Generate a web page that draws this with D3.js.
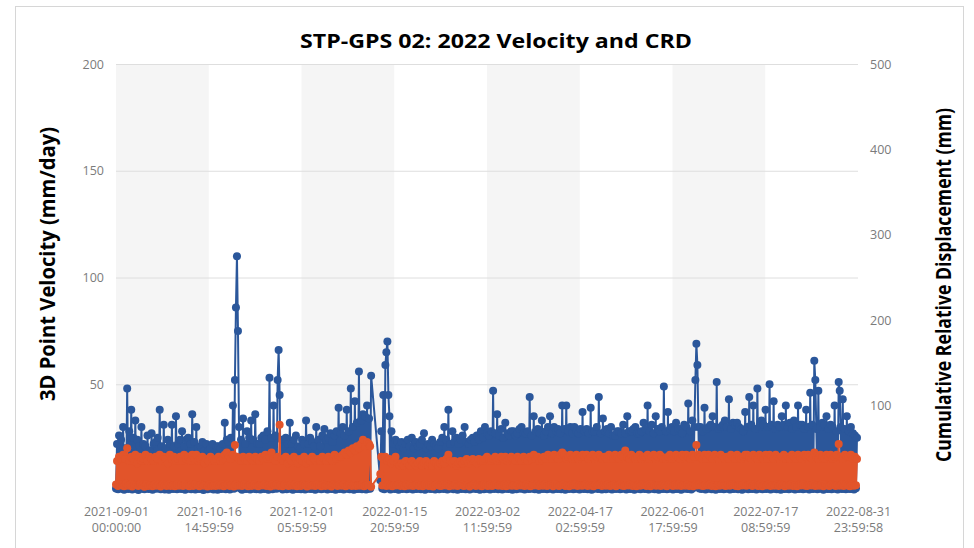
<!DOCTYPE html>
<html>
<head>
<meta charset="utf-8">
<script src="https://cdn.jsdelivr.net/npm/d3@7"></script>
<style>
body { margin: 0; background: #fff; }
svg { display: block; font-family: "Open Sans", sans-serif; }
</style>
</head>
<body>
<svg></svg>
<script>
// two readings a day (00:00 and 12:00) from 2021-09-01, null = no data (early January gap)
var startDay = "2021-09-01";

var velocity00h = [
  1.2, 0.8, 1.5, 1.0, 0.6, 1.4, 0.9, 1.6, 0.7, 1.3,
  1.1, 0.5, 1.8, 1.0, 0.8, 1.5, 0.9, 1.2, 0.6, 1.4,
  1.0, 1.7, 0.8, 1.3, 0.7, 1.1, 0.6, 1.5, 0.9, 1.2,
  0.8, 1.4, 0.9, 1.2, 0.6, 1.0, 1.3, 0.8, 1.6, 0.7,
  1.1, 0.9, 1.4, 0.5, 1.2, 0.8, 1.5, 1.0, 0.7, 1.3,
  0.6, 1.2, 0.9, 1.4, 0.8, 1.1, 0.7, 1.5, 1.0, 86,
  75, 1.3, 0.6, 1.1, 0.9, 1.6, 0.7, 1.2, 1.0, 0.8,
  1.4, 0.7, 1.2, 0.9, 1.5, 0.6, 1.1, 0.8, 1.3, 1.0,
  66, 1.5, 0.7, 1.2, 0.8, 1.4, 1.0, 0.6, 1.3, 0.9,
  1.1, 0.8, 1.6, 0.7, 1.2, 1.0, 0.9, 1.4, 0.6, 1.1,
  1.3, 0.8, 1.0, 1.5, 0.7, 1.2, 0.9, 1.1, 0.6, 1.4,
  0.9, 1.2, 0.7, 1.3, 1.0, 0.8, 1.5, 0.6, 1.1, 0.9,
  1.2, 0.8, 1.4, 0.7, 1.0, 1.1, null, null, null, null,
  5.0, 1.2, 0.8, 65, 45, 0.7, 1.5, 0.9, 1.1, 0.6,
  1.2, 0.9, 1.4, 0.8, 1.0, 1.3, 0.7, 1.1, 0.9, 1.5,
  0.8, 1.2, 0.6, 1.4, 1.0, 0.9, 1.3, 0.7, 1.1, 0.8,
  1.5, 0.9, 1.2, 0.7, 1.0, 1.4, 0.8, 1.1, 0.6, 1.3,
  0.9, 1.2, 0.8, 1.5, 0.7, 1.0, 1.3, 0.9, 1.1, 0.6,
  1.4, 0.8, 1.0, 1.2, 0.7, 1.3, 0.9, 1.6, 0.8, 1.1,
  0.7, 1.2, 1.0, 0.9, 1.4, 0.6, 1.1, 0.8, 1.3, 1.0,
  1.2, 0.7, 1.5, 0.9, 1.0, 1.3, 0.8, 1.1, 0.6, 1.4,
  0.9, 1.2, 0.8, 1.0, 1.3, 0.7, 1.5, 0.9, 1.1, 0.8,
  1.3, 0.6, 1.1, 0.9, 1.4, 0.8, 1.0, 1.2, 0.7, 1.5,
  0.9, 1.1, 0.8, 1.3, 0.6, 1.0, 1.4, 0.9, 1.2, 0.7,
  1.1, 0.8, 1.5, 1.0, 0.7, 1.2, 0.9, 1.3, 0.8, 1.0,
  1.4, 0.7, 1.1, 0.9, 1.2, 0.6, 1.3, 1.0, 0.8, 1.5,
  0.9, 1.1, 0.7, 1.4, 1.0, 0.8, 1.2, 0.6, 1.3, 0.9,
  1.2, 0.8, 1.0, 1.5, 0.7, 1.1, 0.9, 1.3, 0.6, 1.0,
  1.3, 0.9, 1.1, 0.7, 1.4, 52, 59, 1.2, 0.9, 1.5,
  0.7, 1.0, 1.3, 0.8, 1.1, 0.6, 1.4, 0.9, 1.2, 0.8,
  1.0, 1.3, 0.7, 1.1, 0.9, 1.5, 0.8, 1.2, 0.6, 1.0,
  1.4, 0.8, 1.1, 0.9, 1.2, 0.7, 1.3, 1.0, 0.8, 1.1,
  0.9, 1.5, 0.7, 1.2, 1.0, 0.8, 1.3, 0.6, 1.1, 0.9,
  1.2, 0.8, 1.4, 1.0, 0.7, 1.1, 0.9, 1.3, 0.8, 1.0,
  1.5, 0.7, 1.1, 0.9, 52, 0.8, 1.0, 1.4, 0.6, 1.3,
  0.9, 1.1, 0.8, 1.2, 1.0, 0.7, 47, 0.9, 1.1, 0.8,
  1.2, 0.9, 1.0, 0.7, 1.3
];

var velocity12h = [
  22, 26, 24, 30, 20, 48, 28, 38, 25, 33,
  24, 21, 30, 22, 21, 26, 19, 27, 22, 23,
  25, 38, 21, 31, 20, 24, 22, 31, 21, 35,
  22, 24, 28, 21, 24, 25, 22, 36, 23, 30,
  20, 21, 23, 19, 22, 19, 20, 22, 18, 21,
  21, 20, 22, 32, 24, 23, 25, 40, 52, 110,
  30, 24, 34, 22, 28, 25, 33, 24, 36, 22,
  22, 25, 26, 24, 28, 53, 25, 40, 26, 52,
  45, 24, 21, 25, 22, 32, 22, 24, 26, 21,
  20, 24, 22, 33, 22, 25, 23, 21, 30, 24,
  21, 26, 29, 24, 25, 27, 23, 26, 28, 39,
  27, 30, 26, 38, 28, 48, 30, 42, 32, 56,
  33, 36, 35, 40, 34, 54, null, null, null, null,
  28, 45, 59, 70, 35, 28, 22, 24, 23, 21,
  23, 20, 22, 24, 21, 25, 20, 23, 21, 22,
  24, 27, 20, 22, 21, 24, 22, 21, 20, 23,
  25, 30, 24, 38, 22, 28, 23, 25, 22, 24,
  26, 30, 23, 22, 24, 25, 23, 26, 24, 28,
  25, 30, 27, 26, 28, 47, 27, 36, 26, 29,
  25, 32, 27, 26, 28, 28, 26, 27, 29, 30,
  27, 27, 28, 44, 26, 35, 28, 29, 27, 33,
  26, 28, 30, 35, 27, 30, 28, 29, 27, 40,
  29, 40, 28, 30, 27, 30, 28, 27, 29, 37,
  28, 29, 27, 39, 28, 28, 30, 44, 27, 34,
  28, 29, 27, 30, 26, 26, 28, 28, 27, 31,
  27, 35, 28, 28, 29, 30, 27, 27, 28, 32,
  29, 40, 28, 31, 27, 35, 29, 28, 30, 49,
  28, 37, 29, 30, 28, 32, 29, 29, 27, 31,
  30, 41, 28, 33, 30, 69, 30, 30, 28, 39,
  29, 30, 31, 35, 30, 51, 29, 30, 31, 33,
  30, 43, 29, 32, 31, 32, 30, 29, 28, 37,
  30, 44, 31, 40, 29, 48, 30, 33, 31, 38,
  30, 50, 31, 42, 29, 31, 30, 35, 31, 40,
  30, 32, 29, 33, 30, 40, 31, 31, 29, 38,
  30, 46, 31, 61, 29, 47, 30, 32, 31, 35,
  29, 31, 30, 40, 28, 51, 30, 43, 29, 35,
  28, 30, 27, 26, 25
];

var crd00h = [
  3.0, 2.4, 3.2, 2.6, 2.2, 3.4, 2.5, 2.9, 2.1, 3.1,
  2.7, 2.3, 3.3, 2.6, 2.0, 3.0, 2.4, 2.8, 2.2, 3.1,
  2.5, 2.9, 2.1, 3.2, 2.6, 2.3, 3.0, 2.4, 2.7, 2.2,
  3.1, 2.5, 2.8, 2.3, 3.0, 2.6, 2.2, 2.9, 2.4, 3.2,
  2.6, 2.2, 3.0, 2.5, 2.8, 2.1, 3.1, 2.4, 2.7, 2.3,
  2.9, 2.5, 3.2, 2.2, 2.6, 3.0, 2.4, 2.8, 2.1, 3.1,
  2.5, 2.7, 2.3, 3.0, 2.6, 2.2, 2.9, 2.4, 3.1, 2.5,
  2.2, 2.8, 2.6, 3.0, 2.3, 2.7, 2.1, 3.2, 2.5, 2.9,
  2.4, 2.7, 2.2, 3.0, 2.6, 2.3, 2.9, 2.5, 3.1, 2.2,
  2.8, 2.4, 3.0, 2.6, 2.1, 2.9, 2.5, 2.7, 2.3, 3.2,
  2.6, 2.2, 3.0, 2.4, 2.8, 2.5, 2.1, 3.1, 2.7, 2.3,
  2.9, 2.5, 3.2, 2.2, 2.6, 3.0, 2.4, 2.8, 2.3, 2.7,
  2.5, 3.0, 2.2, 2.6, 2.9, 21, null, null, null, null,
  8.0, 2.6, 2.9, 2.3, 3.0, 2.5, 2.2, 2.8, 2.6, 3.1,
  2.4, 2.7, 2.2, 3.0, 2.5, 2.9, 2.3, 2.6, 3.1, 2.4,
  2.8, 2.2, 3.0, 2.6, 2.4, 2.9, 2.1, 2.7, 3.2, 2.5,
  2.3, 2.9, 2.6, 3.0, 2.2, 2.8, 2.5, 3.1, 2.4, 2.7,
  3.0, 2.3, 2.6, 2.9, 2.1, 2.7, 3.2, 2.4, 2.8, 2.5,
  2.2, 3.0, 2.6, 2.4, 2.9, 2.3, 2.7, 3.1, 2.5, 2.8,
  2.4, 2.9, 2.2, 3.0, 2.6, 2.5, 2.8, 2.3, 3.1, 2.6,
  2.7, 2.3, 3.0, 2.5, 2.2, 2.9, 2.6, 3.2, 2.4, 2.8,
  2.5, 3.1, 2.3, 2.7, 2.9, 2.2, 3.0, 2.6, 2.4, 2.8,
  3.0, 2.4, 2.7, 2.2, 2.9, 2.6, 3.1, 2.3, 2.8, 2.5,
  2.6, 3.0, 2.3, 2.8, 2.5, 2.2, 2.9, 2.7, 3.1, 2.4,
  2.8, 2.5, 3.0, 2.3, 2.6, 2.9, 2.2, 2.7, 3.2, 2.5,
  2.3, 2.8, 2.6, 3.0, 2.4, 2.7, 2.2, 2.9, 2.5, 3.1,
  2.7, 2.4, 2.9, 2.2, 3.0, 2.6, 2.5, 2.8, 2.3, 3.1,
  2.6, 2.2, 3.0, 2.7, 2.4, 2.9, 2.5, 3.2, 2.3, 2.8,
  2.5, 3.0, 2.4, 2.7, 2.2, 2.9, 2.6, 3.1, 2.5, 2.3,
  2.9, 2.6, 3.0, 2.4, 2.7, 2.2, 2.8, 2.5, 3.1, 2.6,
  2.3, 2.9, 2.5, 3.0, 2.7, 2.4, 2.2, 2.8, 2.6, 3.1,
  2.5, 2.7, 3.0, 2.3, 2.9, 2.6, 2.4, 3.2, 2.2, 2.8,
  2.6, 3.0, 2.4, 2.7, 2.5, 2.9, 2.3, 3.1, 2.6, 2.2,
  2.8, 2.5, 3.0, 2.4, 2.7, 2.2, 2.9, 2.6, 3.1, 2.5,
  2.3, 2.8, 2.6, 3.0, 2.4, 2.7, 2.5, 2.9, 2.2, 3.1,
  2.6, 2.4, 3.0, 2.7, 2.3, 2.8, 2.5, 3.2, 2.4, 2.9,
  2.6, 2.2, 3.0, 2.5, 2.7
];

var crd12h = [
  14, 16, 15, 17, 15, 20, 14, 16, 15, 17,
  13, 16, 14, 15, 17, 14, 16, 15, 14, 16,
  15, 17, 14, 16, 15, 13, 17, 15, 16, 14,
  15, 16, 14, 17, 15, 16, 14, 17, 15, 17,
  14, 15, 16, 13, 15, 14, 16, 15, 14, 15,
  16, 14, 15, 17, 18, 16, 15, 17, 21.5, 16,
  15, 14, 16, 15, 14, 16, 15, 14, 16, 15,
  14, 16, 15, 17, 15, 16, 18, 15, 14, 16,
  31, 15, 14, 16, 13, 15, 14, 16, 15, 13,
  15, 14, 16, 13, 15, 14, 16, 15, 14, 15,
  14, 16, 15, 14, 16, 15, 14, 17, 15, 16,
  16, 17, 18, 17, 19, 18, 20, 19, 21, 20,
  22, 24, 21, 23, 22, 2.0, null, null, null, null,
  16, 15, 16, 14, 15, 13, 14, 16, 13, 12,
  13, 12, 14, 13, 12, 14, 13, 12, 13, 14,
  12, 13, 14, 12, 13, 12, 14, 13, 12, 13,
  14, 13, 15, 17, 14, 13, 14, 12, 13, 14,
  13, 14, 15, 13, 14, 15, 14, 13, 15, 14,
  14, 15, 16, 15, 14, 15, 16, 14, 15, 16,
  15, 16, 14, 15, 16, 15, 14, 16, 15, 14,
  16, 15, 14, 16, 15, 17, 15, 16, 14, 15,
  16, 15, 17, 16, 15, 17, 16, 15, 17, 18,
  17, 15, 16, 17, 15, 16, 17, 15, 16, 17,
  16, 17, 15, 16, 17, 15, 16, 17, 16, 15,
  16, 15, 17, 16, 15, 17, 16, 15, 17, 16,
  19, 16, 15, 17, 16, 15, 16, 17, 15, 16,
  16, 17, 15, 16, 17, 15, 16, 17, 16, 15,
  15, 16, 17, 15, 16, 17, 16, 15, 17, 16,
  17, 16, 15, 17, 16, 21.5, 17, 16, 15, 17,
  15, 17, 16, 15, 17, 16, 15, 17, 16, 15,
  16, 15, 17, 16, 15, 17, 16, 15, 16, 17,
  17, 16, 15, 17, 16, 15, 17, 16, 15, 17,
  15, 17, 16, 15, 17, 16, 15, 16, 17, 15,
  16, 15, 17, 16, 15, 17, 16, 15, 17, 16,
  17, 16, 15, 18, 16, 15, 17, 16, 15, 17,
  16, 17, 15, 16, 17, 22, 16, 15, 17, 16,
  16, 17, 15, 16, 15
];

var xTickLabels = [
  "2021-09-01 00:00:00", "2021-10-16 14:59:59", "2021-12-01 05:59:59",
  "2022-01-15 20:59:59", "2022-03-02 11:59:59", "2022-04-17 02:59:59",
  "2022-06-01 17:59:59", "2022-07-17 08:59:59", "2022-08-31 23:59:58"
];
var leftTicks = [50, 100, 150, 200];
var rightTicks = [100, 200, 300, 400, 500];

var margin = {top: 64, right: 116, bottom: 57, left: 116},
    width = 974 - margin.left - margin.right,
    height = 548 - margin.top - margin.bottom;

var blue = "#2b579b", orange = "#e2542a";

var svg = d3.select("svg")
    .attr("width", 974)
    .attr("height", 548);

// chart frame
svg.append("rect")
    .attr("x", 15.5).attr("y", 6.5)
    .attr("width", 948).attr("height", 600)
    .attr("fill", "none")
    .attr("stroke", "#d6d6d6");

var g = svg.append("g")
    .attr("transform", "translate(" + margin.left + "," + margin.top + ")");

var parseTick = d3.timeParse("%Y-%m-%d %H:%M:%S");
var tickDates = xTickLabels.map(parseTick);
var day0 = d3.timeParse("%Y-%m-%d")(startDay);

var x = d3.scaleTime()
    .domain([tickDates[0], tickDates[tickDates.length - 1]])
    .range([0, width]);
var y = d3.scaleLinear().domain([0, 200]).range([height, 0]);
var y2 = d3.scaleLinear().domain([0, 500]).range([height, 0]);

// alternating shaded bands between x ticks
for (var i = 0; i < tickDates.length - 1; i += 2) {
  g.append("rect")
      .attr("x", x(tickDates[i]))
      .attr("y", 0)
      .attr("width", x(tickDates[i + 1]) - x(tickDates[i]))
      .attr("height", height)
      .attr("fill", "#f5f5f5");
}

// gridlines
g.append("g")
  .selectAll("line")
  .data(leftTicks)
  .enter().append("line")
    .attr("x1", 0).attr("x2", width)
    .attr("y1", function(d) { return y(d) + 0.5; })
    .attr("y2", function(d) { return y(d) + 0.5; })
    .attr("stroke", "#dedede");

// axes
var yAxis = g.append("g")
    .call(d3.axisLeft(y).tickValues(leftTicks).tickSize(0).tickPadding(12));
var yAxis2 = g.append("g")
    .attr("transform", "translate(" + width + ",0)")
    .call(d3.axisRight(y2).tickValues(rightTicks).tickSize(0).tickPadding(12));
var xAxis = g.append("g")
    .attr("transform", "translate(0," + height + ")")
    .call(d3.axisBottom(x).tickValues(tickDates).tickSize(0).tickPadding(16)
        .tickFormat(function(d, i) { return xTickLabels[i]; }));

[yAxis, yAxis2, xAxis].forEach(function(a) {
  a.select(".domain").remove();
  a.selectAll("text")
      .attr("fill", "#7b7b7b")
      .style("font-family", "'Open Sans', sans-serif")
      .style("font-size", "12.5px");
});

xAxis.selectAll("text").each(function(d, i) {
  var parts = xTickLabels[i].split(" ");
  var t = d3.select(this).text(null);
  t.append("tspan").attr("x", 0).attr("dy", "0.71em").text(parts[0]);
  t.append("tspan").attr("x", 0).attr("dy", "1.25em").text(parts[1]);
});

// series: merge the 00:00 and 12:00 readings in time order
function toPoints(at00, at12) {
  var pts = [];
  at00.forEach(function(v, i) {
    var day = d3.timeDay.offset(day0, i);
    if (v !== null) pts.push({date: day, value: v});
    if (at12[i] !== null) pts.push({date: d3.timeHour.offset(day, 12), value: at12[i]});
  });
  return pts;
}

var line = d3.line()
    .x(function(d) { return x(d.date); })
    .y(function(d) { return y(d.value); });

[[toPoints(velocity00h, velocity12h), blue], [toPoints(crd00h, crd12h), orange]].forEach(function(s) {
  g.append("path")
      .datum(s[0])
      .attr("fill", "none")
      .attr("stroke", s[1])
      .attr("stroke-width", 2)
      .attr("stroke-linejoin", "round")
      .attr("d", line);
  g.append("g")
    .selectAll("circle")
    .data(s[0])
    .enter().append("circle")
      .attr("cx", function(d) { return x(d.date); })
      .attr("cy", function(d) { return y(d.value); })
      .attr("r", 4)
      .attr("fill", s[1]);
});

// titles
svg.append("text")
    .attr("x", 496).attr("y", 48)
    .attr("text-anchor", "middle")
    .style("font-size", "20px")
    .style("font-weight", "bold")
    .attr("textLength", 392)
    .attr("lengthAdjust", "spacingAndGlyphs")
    .text("STP-GPS 02: 2022 Velocity and CRD");

svg.append("text")
    .attr("transform", "translate(55,264) rotate(-90)")
    .attr("text-anchor", "middle")
    .style("font-size", "21px")
    .style("font-weight", "bold")
    .attr("textLength", 274)
    .attr("lengthAdjust", "spacingAndGlyphs")
    .text("3D Point Velocity (mm/day)");

svg.append("text")
    .attr("transform", "translate(951,285) rotate(-90)")
    .attr("text-anchor", "middle")
    .style("font-size", "21px")
    .style("font-weight", "bold")
    .attr("textLength", 354)
    .attr("lengthAdjust", "spacingAndGlyphs")
    .text("Cumulative Relative Displacement (mm)");
</script>
</body>
</html>
